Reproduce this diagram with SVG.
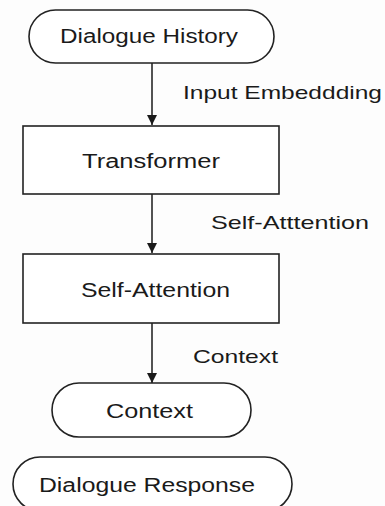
<svg xmlns="http://www.w3.org/2000/svg" width="385" height="506" viewBox="0 0 385 506">
  <style>
    .shape { fill: #ffffff; stroke: #222222; stroke-width: 1.6; }
    .t { font-family: "Liberation Sans", Arial, sans-serif; font-size: 20px; fill: #1a1a1a; }
    .l { font-size: 19px; }
    .c { text-anchor: middle; }
    .edge { stroke: #1a1a1a; stroke-width: 1.5; fill: none; marker-end: url(#arr); }
  </style>
  <defs>
    <marker id="arr" viewBox="0 0 10 10" refX="10" refY="5" markerWidth="10" markerHeight="10" markerUnits="userSpaceOnUse" orient="auto">
      <path d="M0,0 L10,5 L0,10 Z" fill="#1a1a1a"/>
    </marker>
  </defs>
  <rect width="385" height="506" fill="#fdfdfd"/>
  <g id="connectors">
    <line class="edge" x1="152" y1="63" x2="152" y2="125"/>
    <line class="edge" x1="152" y1="194" x2="152" y2="253"/>
    <line class="edge" x1="152" y1="323" x2="152" y2="383"/>
    <text class="t l" x="183" y="99" textLength="199" lengthAdjust="spacingAndGlyphs">Input Embeddding</text>
    <text class="t l" x="211" y="229" textLength="158" lengthAdjust="spacingAndGlyphs">Self-Atttention</text>
    <text class="t l" x="193" y="363" textLength="85" lengthAdjust="spacingAndGlyphs">Context</text>
  </g>
  <g id="dialogue-history">
    <rect class="shape" x="29" y="10" width="245" height="53" rx="26.5"/>
    <text class="t c" x="149" y="43" textLength="178" lengthAdjust="spacingAndGlyphs">Dialogue History</text>
  </g>
  <g id="transformer">
    <rect class="shape" x="23" y="126" width="256" height="68"/>
    <text class="t c" x="151" y="168" textLength="138" lengthAdjust="spacingAndGlyphs">Transformer</text>
  </g>
  <g id="self-attention">
    <rect class="shape" x="23" y="254" width="256" height="69"/>
    <text class="t c" x="155.5" y="297" textLength="149" lengthAdjust="spacingAndGlyphs">Self-Attention</text>
  </g>
  <g id="context">
    <rect class="shape" x="52" y="383" width="199" height="54" rx="27"/>
    <text class="t c" x="149.5" y="418" textLength="87" lengthAdjust="spacingAndGlyphs">Context</text>
  </g>
  <g id="dialogue-response">
    <rect class="shape" x="13" y="457" width="279" height="54" rx="27"/>
    <text class="t c" x="147" y="492" textLength="216" lengthAdjust="spacingAndGlyphs">Dialogue Response</text>
  </g>
</svg>
